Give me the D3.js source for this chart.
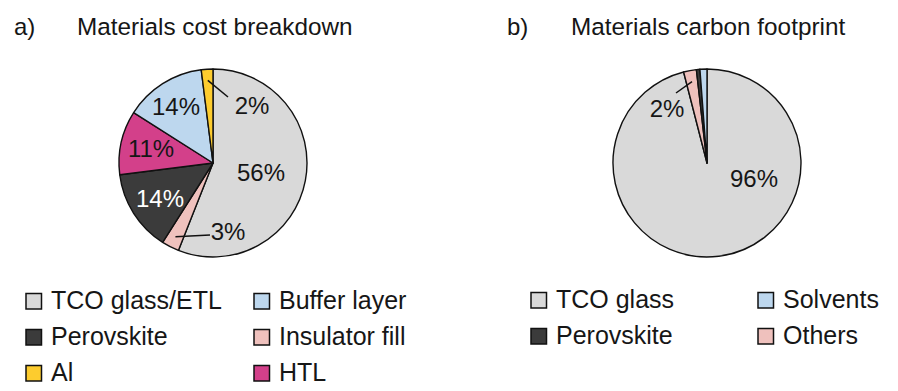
<!DOCTYPE html>
<html>
<head>
<meta charset="utf-8">
<script src="https://cdn.jsdelivr.net/npm/d3@7"></script>
<style>
  body { margin: 0; background: #fff; }
  svg text { font-family: "Liberation Sans", Arial, sans-serif; fill: #161616; }
</style>
</head>
<body>
<svg id="chart" width="898" height="391"></svg>
<script>
// panel a) materials cost breakdown, clockwise from 12 o'clock
var costLabels = ['TCO glass/ETL', 'Insulator fill', 'Perovskite', 'HTL', 'Buffer layer', 'Al'];
var costValues = [56, 3, 14, 11, 14, 2];
var costColors = ['#d9d9d9', '#efc1bd', '#3b3b3b', '#d3408a', '#bdd7ee', '#fdcc2e'];
var costLegendOrder = ['TCO glass/ETL', 'Buffer layer', 'Perovskite', 'Insulator fill', 'Al', 'HTL'];

// panel b) materials carbon footprint, clockwise from 12 o'clock
var carbonLabels = ['TCO glass', 'Others', 'Perovskite', 'Solvents'];
var carbonValues = [96, 2.2, 0.6, 1.2];
var carbonColors = ['#d9d9d9', '#efc1bd', '#3b3b3b', '#bdd7ee'];
var carbonLegendOrder = ['TCO glass', 'Solvents', 'Perovskite', 'Others'];

var svg = d3.select('#chart');
var radius = 94;

// where the percentage labels sit (layout, not data)
var costLabelPos = {
  'TCO glass/ETL': [261, 181],
  'Insulator fill': [228, 240, [210, 235]],
  'Perovskite': [160, 207],
  'HTL': [151, 157],
  'Buffer layer': [176, 115],
  'Al': [252, 114, [228, 97]]
};
var carbonLabelPos = {
  'TCO glass': [754, 187],
  'Others': [667, 117, [676, 93]]
};

function drawPie(cx, cy, labels, values, colors, labelPos) {
  var data = labels.map(function (l, i) { return { label: l, value: values[i], color: colors[i] }; });
  var pie = d3.pie().sort(null).value(function (d) { return d.value; });
  var arc = d3.arc().innerRadius(0).outerRadius(radius);
  var g = svg.append('g').attr('transform', 'translate(' + cx + ',' + cy + ')');
  var arcs = pie(data);

  g.selectAll('path')
    .data(arcs)
    .enter().append('path')
    .attr('d', arc)
    .attr('fill', function (d) { return d.data.color; })
    .attr('stroke', '#111')
    .attr('stroke-width', 1.4)
    .attr('stroke-linejoin', 'round');

  arcs.forEach(function (d) {
    var p = labelPos[d.data.label];
    if (!p) return;
    var pct = Math.round(d.data.value) + '%';
    if (p[2]) {
      // leader line from inside the thin slice to the label
      var mid = (d.startAngle + d.endAngle) / 2;
      var r = radius * 0.88;
      g.append('line')
        .attr('x1', Math.sin(mid) * r)
        .attr('y1', -Math.cos(mid) * r)
        .attr('x2', p[2][0] - cx)
        .attr('y2', p[2][1] - cy)
        .attr('stroke', '#111')
        .attr('stroke-width', 1.5);
    }
    g.append('text')
      .attr('x', p[0] - cx)
      .attr('y', p[1] - cy)
      .attr('text-anchor', 'middle')
      .attr('font-size', 24)
      .style('fill', d.data.label === 'Perovskite' ? '#fff' : '#161616')
      .text(pct);
  });
}

function drawLegend(order, labels, colors, x0, x1, y0) {
  order.forEach(function (name, i) {
    var col = i % 2, row = Math.floor(i / 2);
    var x = col === 0 ? x0 : x1;
    var y = y0 + row * 36;
    svg.append('rect')
      .attr('x', x)
      .attr('y', y - 15.5)
      .attr('width', 15.5)
      .attr('height', 15.5)
      .attr('fill', colors[labels.indexOf(name)])
      .attr('stroke', '#111')
      .attr('stroke-width', 1.5);
    svg.append('text')
      .attr('x', x + 25)
      .attr('y', y)
      .attr('font-size', 25)
      .text(name);
  });
}

// titles
svg.append('text').attr('x', 14).attr('y', 35).attr('font-size', 24).text('a)');
svg.append('text').attr('x', 77).attr('y', 35).attr('font-size', 24.3).text('Materials cost breakdown');
svg.append('text').attr('x', 507).attr('y', 35).attr('font-size', 24).text('b)');
svg.append('text').attr('x', 571).attr('y', 35).attr('font-size', 24.3).text('Materials carbon footprint');

drawPie(213, 163, costLabels, costValues, costColors, costLabelPos);
drawPie(707, 163, carbonLabels, carbonValues, carbonColors, carbonLabelPos);

drawLegend(costLegendOrder, costLabels, costColors, 26, 254, 309);
drawLegend(carbonLegendOrder, carbonLabels, carbonColors, 531, 758, 308);
</script>
</body>
</html>
